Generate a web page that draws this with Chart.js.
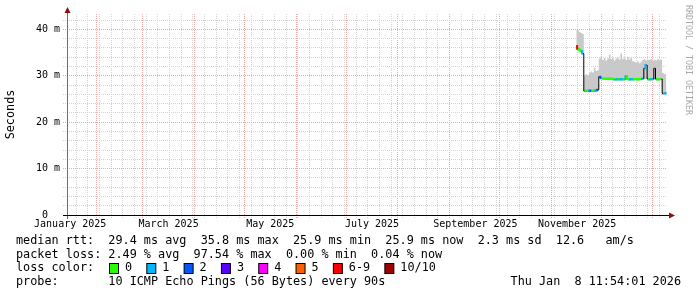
<!DOCTYPE html>
<html lang="en">
<head>
<meta charset="UTF-8">
<title>SmokePing - last 360 days</title>
<script src="https://cdn.jsdelivr.net/npm/chart.js@4.4.1/dist/chart.umd.min.js"></script>
<style>
  body { margin: 0; background: #fff; }
  #wrap { width: 697px; height: 297px; }
</style>
</head>
<body>
<div id="wrap"><canvas id="chart" width="697" height="297"></canvas></div>
<script>
// x values are days counted from 1 Jan 2025 (= day 0)
var days = [319, 320, 321, 322, 323, 324, 325, 326, 327, 328, 329, 330, 331, 332,
            333, 334, 335, 336, 337, 338, 339, 340, 341, 342, 343, 344, 345, 346,
            347, 348, 349, 350, 351, 352, 353, 354, 355, 356, 357, 358, 359, 360,
            361, 362, 363, 364, 365, 366, 367, 368, 369, 370, 371, 372, 373];

// median rtt in ms
var median = [36.4, 35.8, 35.6, 35.3, 34.8, 26.7, 26.8, 26.7, 26.8, 26.7, 26.8, 26.7, 26.9, 27.0,
              29.8, 29.5, 29.4, 29.4, 29.3, 29.4, 29.3, 29.4, 29.3, 29.2, 29.2, 29.3, 29.2, 29.3,
              29.2, 29.3, 29.9, 29.3, 29.2, 29.3, 29.2, 29.3, 29.3, 29.2, 29.3, 29.3, 29.4, 31.6,
              32.3, 29.3, 29.2, 29.3, 29.3, 31.6, 29.3, 29.2, 29.3, 29.3, 26.2, 26.2, 26.3];

// smoke (spread of the pings) upper and lower edge in ms
var smokeHigh = [39.9, 39.8, 39.5, 39.2, 39.0, 30.0, 30.3, 30.1, 30.6, 30.9, 30.7, 31.7, 31.0, 31.2,
                 33.7, 34.1, 33.4, 33.8, 33.3, 33.7, 34.5, 33.6, 33.9, 33.3, 33.7, 33.9, 33.5, 34.8,
                 33.6, 33.9, 33.4, 34.1, 33.5, 33.8, 33.1, 33.0, 32.8, 33.1, 32.7, 33.0, 33.4, 33.6,
                 33.3, 33.5, 33.4, 33.6, 33.2, 33.5, 33.3, 33.6, 33.4, 33.5, 30.6, 30.4, 30.3];
var smokeLow = [36.1, 35.6, 35.4, 35.1, 34.6, 26.5, 26.5, 26.5, 26.6, 26.5, 26.6, 26.5, 26.6, 26.7,
                29.5, 29.2, 29.1, 29.1, 29.1, 29.1, 29.0, 29.1, 29.1, 28.9, 29.0, 29.0, 28.9, 29.0,
                29.0, 29.0, 29.1, 29.0, 28.9, 29.0, 29.0, 29.0, 29.1, 28.9, 29.0, 29.0, 29.1, 29.2,
                29.3, 29.0, 28.9, 29.0, 29.0, 29.1, 29.0, 28.9, 29.0, 29.0, 25.9, 25.9, 26.0];

// loss colour class per sample (index into lossColors)
var lossIdx = [6, 0, 0, 1, 2, 0, 0, 1, 2, 0, 0, 1, 2, 1,
               2, 0, 0, 0, 0, 0, 0, 0, 0, 1, 1, 0, 1, 1,
               0, 1, 0, 0, 1, 1, 0, 0, 0, 0, 0, 1, 0, 1,
               2, 0, 1, 1, 0, 1, 0, 0, 0, 0, 1, 1, 0];

var lossLabels = ['0', '1', '2', '3', '4', '5', '6-9', '10/10'];
var lossColors = ['#26ff00', '#00b8ff', '#0059ff', '#5e00ff', '#ff00ff', '#ff5e00', '#ff0000', '#a10000'];

var monthStarts = [31, 59, 90, 120, 151, 181, 212, 243, 273, 304, 334, 365];
var xLabels = ['January 2025', 'March 2025', 'May 2025', 'July 2025', 'September 2025', 'November 2025'];
var xLabelDays = [15.5, 74.5, 135.5, 196.5, 258.5, 319.5];
var yGrid = [0, 2, 4, 6, 8, 10, 12, 14, 16, 18, 20, 22, 24, 26, 28, 30, 32, 34, 36, 38, 40, 42];

var statRtt = 'median rtt:  29.4 ms avg  35.8 ms max  25.9 ms min  25.9 ms now  2.3 ms sd  12.6   am/s';
var statLoss = 'packet loss: 2.49 % avg  97.54 % max  0.00 % min  0.04 % now';
var probeText = 'probe:       10 ICMP Echo Pings (56 Bytes) every 90s';
var stampText = 'Thu Jan  8 11:54:01 2026';

var xMin = 13.6, xMax = 373.4;
var MONO = '"DejaVu Sans Mono", "Liberation Mono", monospace';

// weekly (monday) grid lines plus month starts
var xGrid = [];
for (var d = 19; d < xMax; d += 7) {
    if (monthStarts.indexOf(d) == -1) xGrid.push(d);
}
xGrid = xGrid.concat(monthStarts).sort(function (a, b) { return a - b; });

function pts(vals) {
    var out = [];
    for (var i = 0; i < days.length; i++) out.push({x: days[i], y: vals[i]});
    return out;
}

var minorGrid = '#d4d4d4';
var majorGrid = '#ecabab';

var rrdDecor = {
    id: 'rrdDecor',
    beforeDraw: function (chart) {
        var c = chart.ctx;
        c.save();
        c.fillStyle = '#fff';
        c.fillRect(0, 0, chart.width, chart.height);
        c.restore();
    },
    afterDraw: function (chart) {
        var c = chart.ctx, a = chart.chartArea;
        c.save();
        // axes
        c.lineWidth = 1;
        c.strokeStyle = '#6e6e6e';
        c.beginPath();
        c.moveTo(a.left + 0.5, a.bottom + 4);
        c.lineTo(a.left + 0.5, a.top - 2);
        c.stroke();
        c.strokeStyle = '#000';
        c.beginPath();
        c.moveTo(a.left - 4, a.bottom + 0.5);
        c.lineTo(a.right + 3, a.bottom + 0.5);
        c.stroke();
        c.fillStyle = '#8b1010';
        c.beginPath();
        c.moveTo(a.left - 2.5, a.top - 1);
        c.lineTo(a.left + 3.5, a.top - 1);
        c.lineTo(a.left + 0.5, a.top - 7);
        c.closePath();
        c.fill();
        c.beginPath();
        c.moveTo(a.right + 2, a.bottom - 2.5);
        c.lineTo(a.right + 2, a.bottom + 3.5);
        c.lineTo(a.right + 8, a.bottom + 0.5);
        c.closePath();
        c.fill();

        // watermark
        c.save();
        c.translate(688, 5);
        c.rotate(Math.PI / 2);
        c.font = '8.3px ' + MONO;
        c.fillStyle = '#a8a8a8';
        c.textBaseline = 'middle';
        c.textAlign = 'left';
        c.fillText('RRDTOOL / TOBI OETIKER', 0, 0);
        c.restore();

        // legend / stats lines
        c.font = '11.8px ' + MONO;
        c.fillStyle = '#000';
        c.textBaseline = 'middle';
        c.textAlign = 'left';
        c.fillText(statRtt, 16, 241);
        c.fillText(statLoss, 16, 255);
        c.fillText('loss color:', 16, 268);
        c.fillText(probeText, 16, 282);
        c.textAlign = 'right';
        c.fillText(stampText, 681, 282);
        c.textAlign = 'left';

        var cw = c.measureText('0').width;
        var bx = 109;
        for (var i = 0; i < lossLabels.length; i++) {
            c.fillStyle = lossColors[i];
            c.fillRect(bx + 0.5, 263.5, 9, 10);
            c.strokeStyle = '#000';
            c.strokeRect(bx + 0.5, 263.5, 9, 10);
            c.fillStyle = '#000';
            c.fillText(lossLabels[i], bx + 16, 268);
            bx += 16 + (lossLabels[i].length + 2) * cw;
        }
        c.restore();
    }
};

var config = {
    type: 'line',
    data: {
        datasets: [{
            label: 'loss colour',
            data: pts(median),
            stepped: 'middle',
            borderWidth: 2,
            borderColor: lossColors[0],
            pointRadius: 0,
            fill: false,
            order: 1,
            segment: {
                borderColor: function (ctx) {
                    if (Math.abs(ctx.p1.y - ctx.p0.y) > 4) return 'rgba(0,0,0,0)';
                    return lossColors[lossIdx[ctx.p0DataIndex]];
                }
            }
        }, {
            label: 'median',
            data: pts(median),
            stepped: 'middle',
            borderWidth: 1,
            borderColor: '#000',
            pointRadius: 0,
            fill: false,
            order: 2
        }, {
            label: 'smoke high',
            data: pts(smokeHigh),
            stepped: 'middle',
            borderWidth: 0,
            borderColor: 'rgba(0,0,0,0)',
            backgroundColor: '#c9c9c9',
            pointRadius: 0,
            fill: 3,
            order: 3
        }, {
            label: 'smoke low',
            data: pts(smokeLow),
            stepped: 'middle',
            borderWidth: 0,
            borderColor: 'rgba(0,0,0,0)',
            pointRadius: 0,
            fill: false,
            order: 4
        }]
    },
    options: {
        responsive: false,
        animation: false,
        devicePixelRatio: 1,
        layout: {padding: {left: 0, right: 30, top: 14, bottom: 0}},
        plugins: {
            legend: {display: false},
            tooltip: {enabled: false}
        },
        scales: {
            x: {
                type: 'linear',
                position: 'bottom',
                min: xMin,
                max: xMax,
                weight: 0,
                afterBuildTicks: function (s) {
                    s.ticks = xGrid.map(function (v) { return {value: v}; });
                },
                afterFit: function (s) { s.height = 2; },
                ticks: {display: false},
                border: {display: false, dash: [1, 1]},
                grid: {
                    color: function (ctx) {
                        return monthStarts.indexOf(ctx.tick.value) != -1 ? majorGrid : minorGrid;
                    },
                    tickBorderDash: [1, 1],
                    tickLength: 3,
                    lineWidth: 1
                }
            },
            x2: {
                type: 'linear',
                position: 'bottom',
                min: xMin,
                max: xMax,
                weight: 1,
                afterBuildTicks: function (s) {
                    s.ticks = xLabelDays.map(function (v) { return {value: v}; });
                },
                afterFit: function (s) { s.height = 80; },
                ticks: {
                    autoSkip: false,
                    maxRotation: 0,
                    padding: 1,
                    color: '#000',
                    font: {family: MONO, size: 10},
                    callback: function (v, i) { return xLabels[i]; }
                },
                border: {display: false},
                grid: {display: false, drawTicks: false}
            },
            y: {
                type: 'linear',
                min: 0,
                max: 43.3,
                afterBuildTicks: function (s) {
                    s.ticks = yGrid.map(function (v) { return {value: v}; });
                },
                afterFit: function (s) { s.width = 67; },
                ticks: {
                    autoSkip: false,
                    padding: 3,
                    color: '#000',
                    font: {family: MONO, size: 10},
                    callback: function (v) {
                        if (v % 10 != 0) return '';
                        return v == 0 ? '0  ' : v + ' m';
                    }
                },
                border: {display: false, dash: [1, 1]},
                grid: {
                    color: function (ctx) {
                        return ctx.tick.value % 10 == 0 ? majorGrid : minorGrid;
                    },
                    tickBorderDash: [1, 1],
                    tickLength: 4,
                    lineWidth: 1
                },
                title: {
                    display: true,
                    text: 'Seconds',
                    color: '#000',
                    font: {family: MONO, size: 11.8},
                    padding: {top: 4, bottom: 0}
                }
            }
        }
    },
    plugins: [rrdDecor]
};

var ctx = document.getElementById('chart').getContext('2d');
window.smokeChart = new Chart(ctx, config);
</script>
</body>
</html>
